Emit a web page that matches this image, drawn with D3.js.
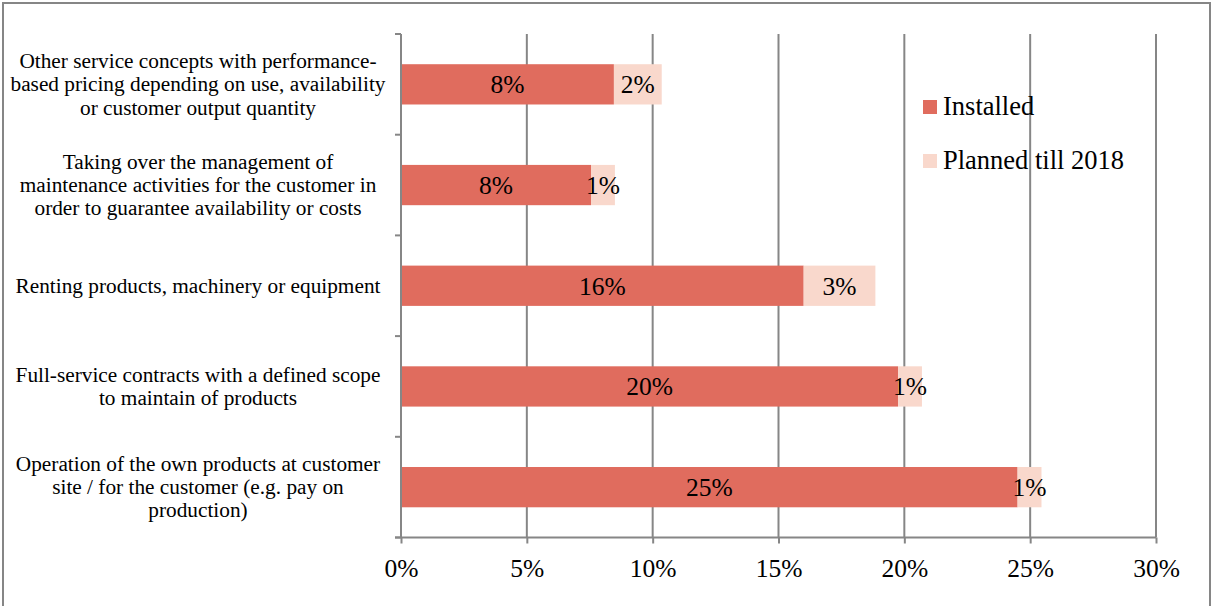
<!DOCTYPE html>
<html>
<head>
<meta charset="utf-8">
<script src="https://cdn.jsdelivr.net/npm/d3@7"></script>
<style>
  html, body { margin: 0; padding: 0; background: #fff; }
  svg text { font-family: "Liberation Serif", "Times New Roman", serif; fill: #000; }
</style>
</head>
<body>
<svg id="chart" width="1212" height="606"></svg>
<script>
// Service offerings (top to bottom), each label split into lines
const categories = [
  ["Other service concepts with performance-", "based pricing depending on use, availability", "or customer output quantity"],
  ["Taking over the management of", "maintenance activities for the customer in", "order to guarantee availability or costs"],
  ["Renting products, machinery or equipment"],
  ["Full-service contracts with a defined scope", "to maintain of products"],
  ["Operation of the own products at customer", "site / for the customer (e.g. pay on", "production)"]
];
// Shares in percent
const installed = [8.46, 7.55, 16.0, 19.75, 24.5];
const planned   = [1.9, 0.95, 2.85, 0.95, 0.95];
const seriesNames = ["Installed", "Planned till 2018"];
const seriesColors = ["#E06C5E", "#F9D8CC"];
const xTicks = [0, 5, 10, 15, 20, 25, 30];

const svg = d3.select("#chart");
const plot = { left: 401, right: 1156, top: 34, bottom: 537.5 };
const gray = "#868686";

// outer frame (bottom edge runs off the canvas)
svg.append("rect")
  .attr("x", 3).attr("y", 3).attr("width", 1207).attr("height", 620)
  .attr("fill", "none").attr("stroke", gray).attr("stroke-width", 2);

const x = d3.scaleLinear().domain([0, 30]).range([plot.left, plot.right]);
const y = d3.scaleBand().domain(d3.range(categories.length))
  .range([plot.top, plot.bottom]).paddingInner(0.6).paddingOuter(0.3);
const yEdge = d3.scaleLinear().domain([0, categories.length]).range([plot.top, plot.bottom]);

// vertical gridlines
svg.append("g").selectAll("line").data(xTicks.slice(1)).join("line")
  .attr("x1", d => x(d)).attr("x2", d => x(d))
  .attr("y1", plot.top).attr("y2", plot.bottom)
  .attr("stroke", gray).attr("stroke-width", 2);

// stacked bars
const rows = categories.map((c, i) => ({ i, a: installed[i], b: planned[i] }));
const bars = svg.append("g");
bars.selectAll("rect.inst").data(rows).join("rect").attr("class", "inst")
  .attr("x", x(0)).attr("y", d => y(d.i))
  .attr("width", d => x(d.a) - x(0)).attr("height", y.bandwidth())
  .attr("fill", seriesColors[0]);
bars.selectAll("rect.plan").data(rows).join("rect").attr("class", "plan")
  .attr("x", d => x(d.a)).attr("y", d => y(d.i))
  .attr("width", d => x(d.a + d.b) - x(d.a)).attr("height", y.bandwidth())
  .attr("fill", seriesColors[1]);

// value labels
const fmt = v => Math.round(v) + "%";
const labels = svg.append("g").attr("font-size", 25.5)
  .attr("text-anchor", "middle");
labels.selectAll("text.inst").data(rows).join("text").attr("class", "inst")
  .attr("x", d => (x(0) + x(d.a)) / 2).attr("y", d => y(d.i) + y.bandwidth() / 2 + 9)
  .text(d => fmt(d.a));
labels.selectAll("text.plan").data(rows).join("text").attr("class", "plan")
  .attr("x", d => (x(d.a) + x(d.a + d.b)) / 2).attr("y", d => y(d.i) + y.bandwidth() / 2 + 9)
  .text(d => fmt(d.b));

// y axis line with category boundary ticks
svg.append("line")
  .attr("x1", plot.left).attr("x2", plot.left)
  .attr("y1", plot.top).attr("y2", plot.bottom)
  .attr("stroke", gray).attr("stroke-width", 2);
svg.append("g").selectAll("line").data(d3.range(categories.length + 1)).join("line")
  .attr("x1", plot.left - 6).attr("x2", plot.left)
  .attr("y1", d => yEdge(d)).attr("y2", d => yEdge(d))
  .attr("stroke", gray).attr("stroke-width", 2);

// x axis
const xAxis = svg.append("g").attr("transform", `translate(0,${plot.bottom})`)
  .call(d3.axisBottom(x).tickValues(xTicks).tickFormat(d => d + "%").tickSize(6).tickPadding(15));
xAxis.select(".domain").attr("stroke", gray).attr("stroke-width", 2)
  .attr("d", `M${plot.left - 6},0H${plot.right}`);
xAxis.selectAll(".tick line").attr("stroke", gray).attr("stroke-width", 2);
xAxis.selectAll(".tick text").attr("font-size", 25.5);

// category labels
const catG = svg.append("g").attr("font-size", 21.3).attr("text-anchor", "middle");
const lineH = 23.2;
categories.forEach((lines, i) => {
  const cy = y(i) + y.bandwidth() / 2;
  const t = catG.append("text").attr("x", 198)
    .attr("y", cy - (lines.length - 1) * lineH / 2 + 7);
  lines.forEach((ln, k) => {
    t.append("tspan").attr("x", 198).attr("dy", k === 0 ? 0 : lineH).text(ln);
  });
});

// legend
const leg = svg.append("g").attr("transform", "translate(923,100)");
seriesNames.forEach((name, k) => {
  const g = leg.append("g").attr("transform", `translate(0,${k * 54})`);
  g.append("rect").attr("width", 14).attr("height", 14).attr("fill", seriesColors[k]);
  g.append("text").attr("x", 20).attr("y", 15)
    .attr("font-size", 26.5).text(name);
});
</script>
</body>
</html>
